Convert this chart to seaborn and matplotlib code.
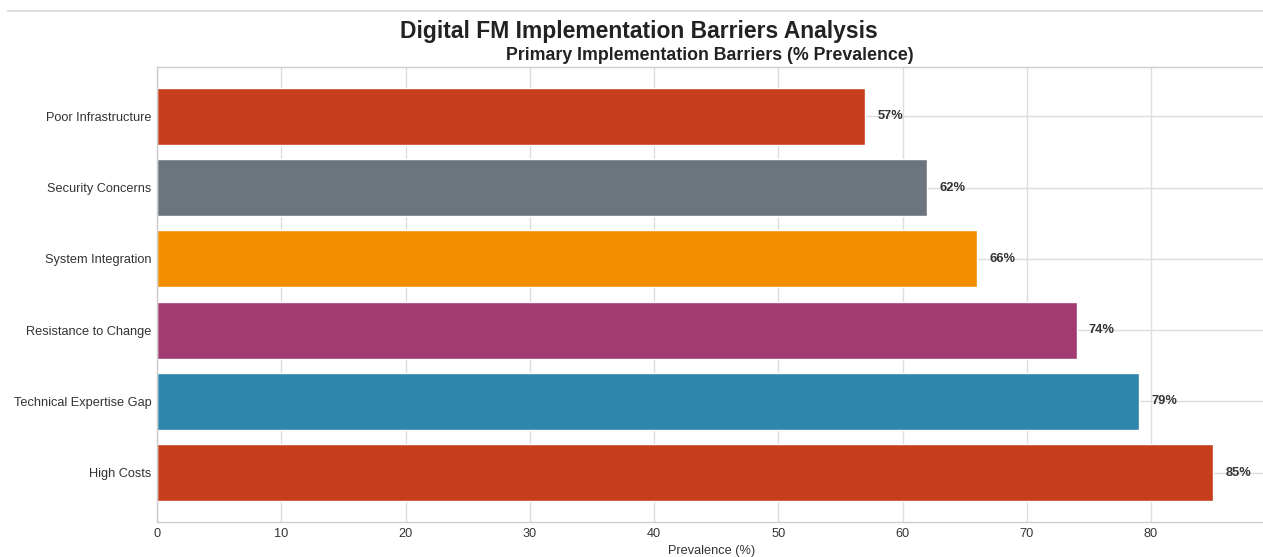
import matplotlib
matplotlib.use("Agg")
import matplotlib.pyplot as plt
from matplotlib.lines import Line2D
import seaborn as sns
import pandas as pd

barriers = ["Poor Infrastructure", "Security Concerns", "System Integration",
            "Resistance to Change", "Technical Expertise Gap", "High Costs"]
prevalence = [57, 62, 66, 74, 79, 85]
bar_colors = ["#C73E1D", "#6C757D", "#F18F01", "#A23B72", "#2E86AB", "#C73E1D"]

sns.set_theme(style="whitegrid")
plt.rcParams["font.family"] = ["Liberation Sans", "DejaVu Sans"]

df = pd.DataFrame({"Barrier": barriers, "Prevalence": prevalence})

fig = plt.figure(figsize=(12.63, 5.57), dpi=100)
ax = fig.add_axes([157 / 1263, 1 - 522 / 557, (1266 - 157) / 1263, (522 - 67) / 557])

sns.barplot(data=df, y="Barrier", x="Prevalence", hue="Barrier", order=barriers,
            palette=dict(zip(barriers, bar_colors)), legend=False,
            width=0.8, saturation=1, ax=ax)

for i, v in enumerate(prevalence):
    ax.text(v + 1, i, f"{v}%", va="center", ha="left",
            fontsize=9.3, fontweight="bold", color="#333333")

ax.set_xlim(0, max(prevalence) * 1.05)
# standard 5% margin around the bar extents
n = len(barriers)
pad = 0.05 * (n - 1 + 0.8)
ax.set_ylim(n - 1 + 0.4 + pad, -0.4 - pad)
ax.set_ylabel("")
ax.set_xlabel("Prevalence (%)", fontsize=9.2, color="#333333", labelpad=4)
ax.tick_params(axis="both", labelsize=9.2, colors="#333333", length=0, pad=4)
ax.grid(True, axis="both", color="#dddddd", linewidth=1)
ax.set_axisbelow(True)
for s in ax.spines.values():
    s.set_color("#cccccc")
    s.set_linewidth(1)

ax.set_title("Primary Implementation Barriers (% Prevalence)", fontsize=12.75,
             fontweight="bold", color="#222222", pad=5,
             x=(1263 - 157) / 2 / (1266 - 157))
fig.text(0.506, 0.944, "Digital FM Implementation Barriers Analysis", ha="center",
         va="center", fontsize=16.5, fontweight="bold", color="#222222")

fig.add_artist(Line2D([8 / 1263, 1], [1 - 11 / 557, 1 - 11 / 557],
                      transform=fig.transFigure, color="#dddddd", linewidth=1.5))

fig.savefig("out.png", dpi=100)
